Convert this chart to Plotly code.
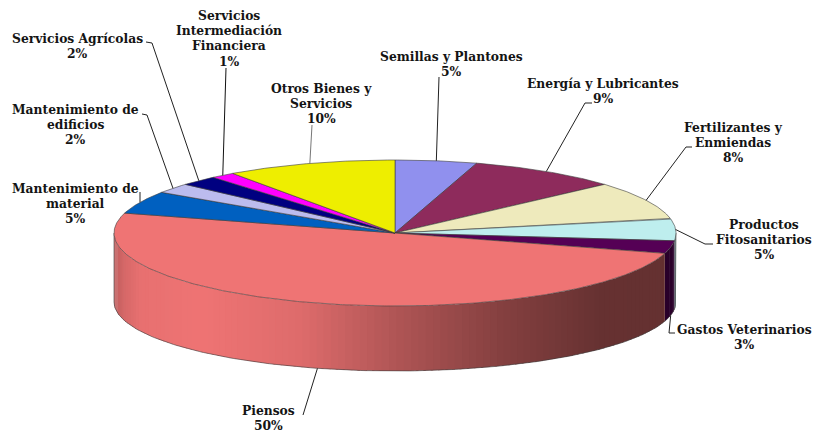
import numpy as np
import plotly.graph_objects as go

# ---- data ----
categories = ["Semillas y Plantones", "Energía y Lubricantes", "Fertilizantes y Enmiendas",
              "Productos Fitosanitarios", "Gastos Veterinarios", "Piensos",
              "Mantenimiento de material", "Mantenimiento de edificios", "Servicios Agrícolas",
              "Servicios Intermediación Financiera", "Otros Bienes y Servicios"]
percent_labels = [5, 9, 8, 5, 3, 50, 5, 2, 2, 1, 10]
# slice shares as they appear on the drawn pie
values = [4.7, 8.7, 8.4, 4.9, 2.8, 49.9, 5.0, 2.2, 2.2, 1.4, 9.8]

# ---- style and layout ----
colors = ["#9090EE", "#8E2B5C", "#EEEABC", "#BEEEEE", "#550055", "#EF7474",
          "#0060C0", "#BCBCEE", "#000080", "#FF00FF", "#EEEE00"]
CX, CY, A, B, DEPTH, B_LOW = 395, 233, 281, 73, 69, 69
EDGE = "#3c3c3c"
FONT = dict(family="DejaVu Serif", size=12.3, color="#141414", weight="bold")

# wrapped label lines: (centre x, first-line y), and leader elbows
label_lines = [["Semillas y Plantones"], ["Energía y Lubricantes"], ["Fertilizantes y", "Enmiendas"],
               ["Productos", "Fitosanitarios"], ["Gastos Veterinarios"], ["Piensos"],
               ["Mantenimiento de", "material"], ["Mantenimiento de", "edificios"], ["Servicios Agrícolas"],
               ["Servicios", "Intermediación", "Financiera"], ["Otros Bienes y", "Servicios"]]
label_pos = [(451, 56), (603, 83), (733, 127), (764, 224), (744, 329), (268, 410.5),
             (75, 188), (75, 109), (77, 38), (229, 15), (321, 88)]
leader_start = [[(439, 77)], [(592, 103), (585, 103)], [(692, 147), (686, 147)],
                [(713, 244), (705, 244)], [(675, 333), (669, 333)], [(303, 415)],
                [(140, 192)], [(142, 114), (147, 115)], [(146, 42), (152, 43)],
                [(226, 68)], [(312, 125)]]
leader_col = ["#222", "#222", "#222", "#222", "#222", "#222", "#222", "#222", "#222", "#111", "#777"]
LINE_H = 15.4


def rim(theta_deg):
    t = np.radians(theta_deg)
    return CX + A * np.sin(t), CY - B * np.cos(t)


def rim_low(theta_deg):
    t = np.radians(theta_deg)
    return CX + A * np.sin(t), CY + DEPTH - B_LOW * np.cos(t)


def shade(hexcol, f):
    r, g, b = (int(hexcol[i:i + 2], 16) for i in (1, 3, 5))
    return f"rgb({int(r * f)},{int(g * f)},{int(b * f)})"


x_stops = [114, 125, 140, 200, 300, 400, 500, 600, 680]
f_stops = [0.80, 0.90, 0.97, 1.0, 0.93, 0.73, 0.56, 0.43, 0.42]

total = sum(values)
edges = np.concatenate([[0], np.cumsum(values)]) * 360 / total
fig = go.Figure()


def poly(xs, ys, fill, line=None, width=0):
    fig.add_trace(go.Scatter(x=xs, y=ys, mode="lines", fill="toself", fillcolor=fill,
                             line=dict(color=line or fill, width=width), hoverinfo="skip",
                             showlegend=False))


# visible side wall, split into narrow bands for the shading
for i in range(len(values)):
    lo, hi = max(edges[i], 90), min(edges[i + 1], 270)
    if hi <= lo:
        continue
    for s in np.arange(lo, hi, 1.5):
        e = min(s + 2.0, hi)
        th = np.linspace(s, e, 3)
        xt, yt = rim(th)
        xb, yb = rim_low(th)
        xm = rim(s + 0.75)[0]
        if i == 5:
            f = float(np.interp(xm, x_stops, f_stops))
        elif i == 4:
            f = 0.5
        else:
            f = 0.58
        poly(list(xt) + list(xb[::-1]), list(yt) + list(yb[::-1]), shade(colors[i], f))

# outline of the wall
th = np.linspace(90, 270, 181)
xb, yb = rim_low(th)
xa, ya = rim(th[[0, -1]])
fig.add_trace(go.Scatter(x=[xa[0]] + list(xb) + [xa[1]], y=[ya[0]] + list(yb) + [ya[1]], mode="lines",
                         line=dict(color=EDGE, width=0.6), hoverinfo="skip", showlegend=False))

# top face wedges
for i in range(len(values)):
    th = np.linspace(edges[i], edges[i + 1], max(int(edges[i + 1] - edges[i]) * 2, 4))
    xt, yt = rim(th)
    poly([CX] + list(xt) + [CX], [CY] + list(yt) + [CY], colors[i], EDGE, 0.6)

# leaders and labels
annotations = []
for i, cat in enumerate(categories):
    mid = (edges[i] + edges[i + 1]) / 2
    tip = rim_low(mid) if 100 < mid < 260 else rim(mid)
    pts = leader_start[i] + [tip]
    fig.add_trace(go.Scatter(x=[p[0] for p in pts], y=[p[1] for p in pts], mode="lines",
                             line=dict(color=leader_col[i], width=1), hoverinfo="skip", showlegend=False))
    lines = label_lines[i] + [f"{percent_labels[i]}%"]
    cx, y0 = label_pos[i]
    for k, txt in enumerate(lines):
        annotations.append(dict(x=cx, y=y0 + k * LINE_H, text=txt, showarrow=False, xanchor="center",
                                yanchor="middle", font=FONT, xref="x", yref="y"))

fig.update_layout(
    width=827, height=434, margin=dict(l=0, r=0, t=0, b=0),
    paper_bgcolor="white", plot_bgcolor="white", annotations=annotations,
    xaxis=dict(range=[0, 827], visible=False, fixedrange=True),
    yaxis=dict(range=[434, 0], visible=False, fixedrange=True),
)
fig.write_html("out.html", config={"displayModeBar": False},
               post_script="document.body.style.margin='0';document.documentElement.style.overflow='hidden';")
